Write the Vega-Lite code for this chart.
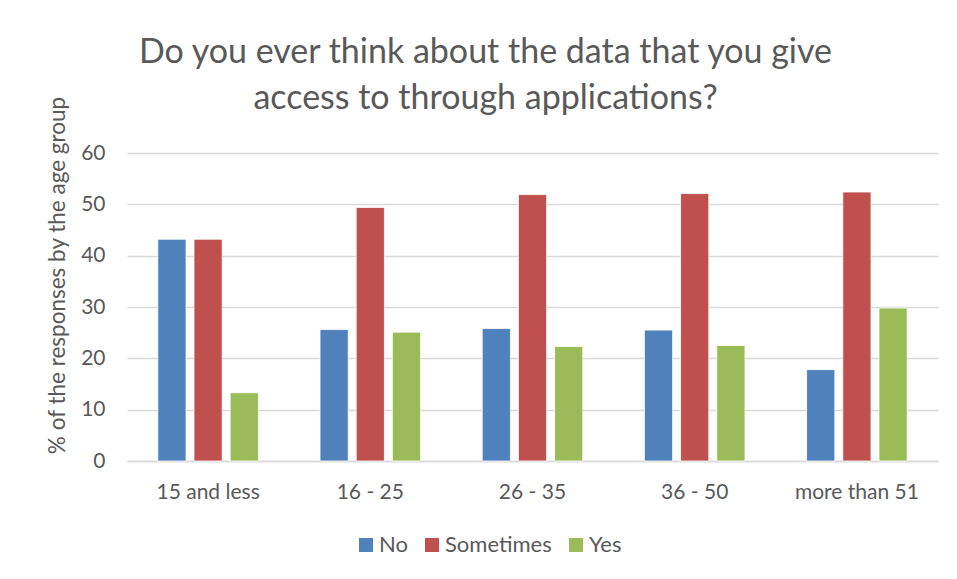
{
  "$schema": "https://vega.github.io/schema/vega-lite/v6.json",
  "autosize": {"type": "none"},
  "width": 811,
  "height": 308,
  "padding": {"left": 127, "top": 153, "right": 19, "bottom": 118},
  "background": "white",
  "title": {
    "text": ["Do you ever think about the data that you give", "access to through applications?"],
    "anchor": "middle",
    "dx": -47,
    "offset": -20,
    "font": "Lato",
    "fontSize": 34,
    "fontWeight": "normal",
    "color": "#595959",
    "lineHeight": 46
  },
  "data": {
    "values": [
      {"age": "15 and less", "answer": "No", "pct": 43.2},
      {"age": "15 and less", "answer": "Sometimes", "pct": 43.2},
      {"age": "15 and less", "answer": "Yes", "pct": 13.3},
      {"age": "16 - 25", "answer": "No", "pct": 25.6},
      {"age": "16 - 25", "answer": "Sometimes", "pct": 49.4},
      {"age": "16 - 25", "answer": "Yes", "pct": 25.1},
      {"age": "26 - 35", "answer": "No", "pct": 25.8},
      {"age": "26 - 35", "answer": "Sometimes", "pct": 51.9},
      {"age": "26 - 35", "answer": "Yes", "pct": 22.3},
      {"age": "36 - 50", "answer": "No", "pct": 25.5},
      {"age": "36 - 50", "answer": "Sometimes", "pct": 52.1},
      {"age": "36 - 50", "answer": "Yes", "pct": 22.5},
      {"age": "more than 51", "answer": "No", "pct": 17.8},
      {"age": "more than 51", "answer": "Sometimes", "pct": 52.4},
      {"age": "more than 51", "answer": "Yes", "pct": 29.8}
    ]
  },
  "mark": {"type": "bar", "stroke": "white", "strokeWidth": 0.8},
  "encoding": {
    "x": {
      "field": "age",
      "type": "nominal",
      "sort": null,
      "scale": {"paddingInner": 0.38, "paddingOuter": 0.19},
      "axis": {
        "title": null,
        "labelAngle": 0,
        "labelFont": "Lato",
        "labelFontSize": 21,
        "labelColor": "#595959",
        "labelPadding": 20,
        "ticks": false,
        "domainColor": "#d9d9d9",
        "domainWidth": 1.5
      }
    },
    "xOffset": {
      "field": "answer",
      "type": "nominal",
      "sort": ["No", "Sometimes", "Yes"],
      "scale": {"paddingInner": 0.22, "paddingOuter": 0}
    },
    "y": {
      "field": "pct",
      "type": "quantitative",
      "scale": {"domain": [0, 60]},
      "axis": {
        "title": "% of the responses by the age group",
        "titleFont": "Lato",
        "titleFontSize": 22.5,
        "titleFontWeight": "normal",
        "titleColor": "#595959",
        "titleX": -70,
        "titleY": 122,
        "titleAngle": -90,
        "titleAlign": "center",
        "titleBaseline": "middle",
        "values": [0, 10, 20, 30, 40, 50, 60],
        "labelFont": "Lato",
        "labelFontSize": 21,
        "labelColor": "#595959",
        "labelPadding": 22,
        "ticks": false,
        "domain": false,
        "gridColor": "#d9d9d9",
        "gridWidth": 1.5
      }
    },
    "color": {
      "field": "answer",
      "type": "nominal",
      "sort": ["No", "Sometimes", "Yes"],
      "scale": {"domain": ["No", "Sometimes", "Yes"], "range": ["#4f81bd", "#c0504d", "#9bbb59"]},
      "legend": {
        "title": null,
        "orient": "none",
        "direction": "horizontal",
        "legendX": 228,
        "legendY": 381,
        "symbolType": "square",
        "symbolSize": 196,
        "symbolStrokeWidth": 0,
        "labelFont": "Lato",
        "labelFontSize": 22,
        "labelColor": "#595959",
        "columnPadding": 13,
        "labelOffset": 2
      }
    }
  },
  "config": {"view": {"stroke": null}}
}
